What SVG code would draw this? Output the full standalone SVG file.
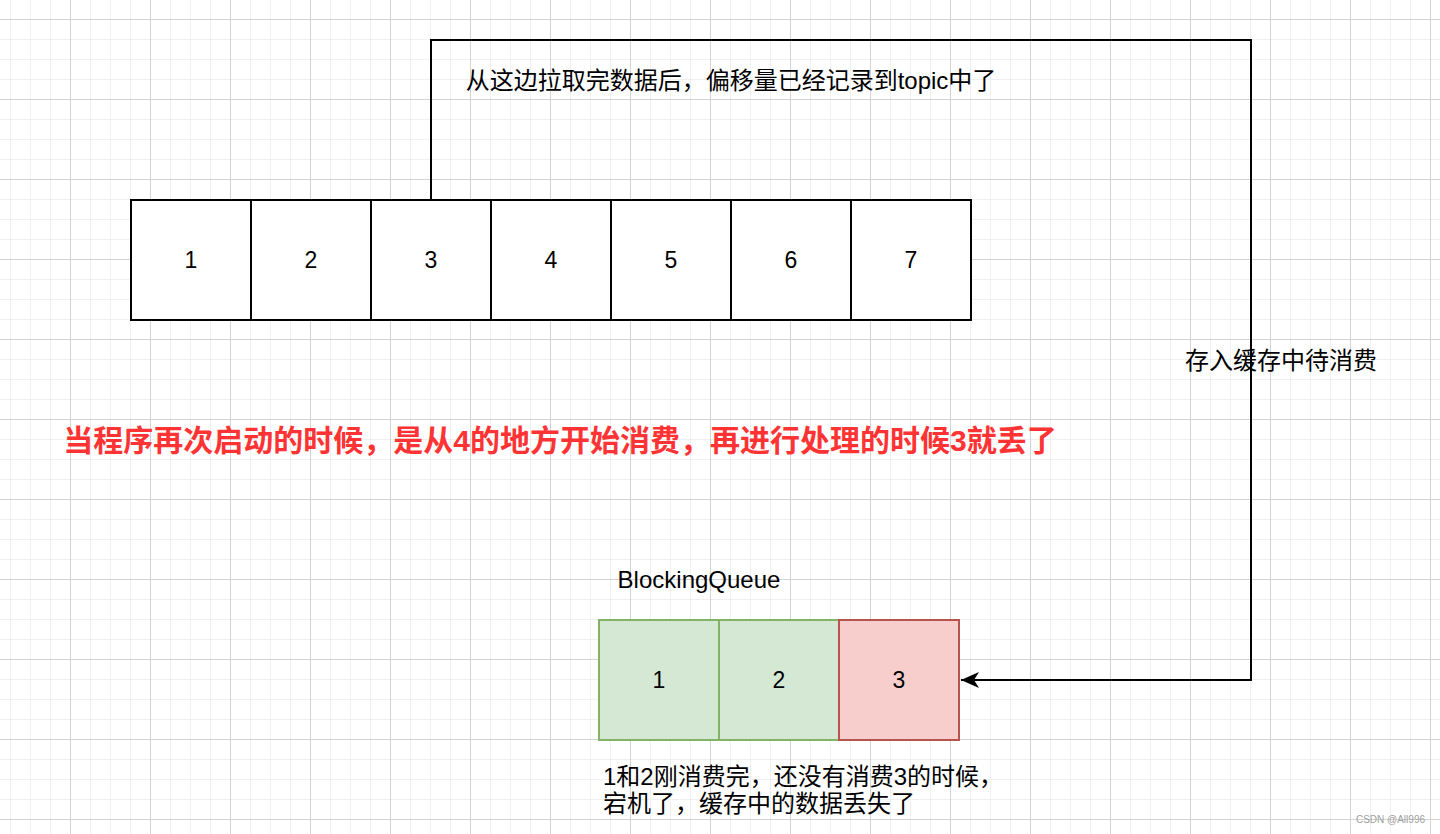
<svg xmlns="http://www.w3.org/2000/svg" width="1440" height="834" viewBox="0 0 1440 834">
  <defs>
    <pattern id="gridMinor" patternUnits="userSpaceOnUse" x="10" y="19" width="20" height="20">
      <path d="M0.5 0 V20 M0 0.5 H20" stroke="#f0f0f0" stroke-width="1" fill="none"/>
    </pattern>
    <pattern id="gridMajor" patternUnits="userSpaceOnUse" x="70" y="19" width="80" height="80">
      <path d="M0.5 0 V80 M0 0.5 H80" stroke="#d3d3d3" stroke-width="1" fill="none"/>
    </pattern>
    <marker id="arrow" markerUnits="userSpaceOnUse" markerWidth="20" markerHeight="20" refX="19" refY="10" orient="auto">
      <path d="M19 10 L1 2 L6 10 L1 18 Z" fill="#000"/>
    </marker>
  </defs>
  <style>
    text { font-family: "Liberation Sans", Arial, "Noto Sans CJK SC", sans-serif; fill: #000; }
    .cell { fill: #ffffff; stroke: #000; stroke-width: 2; }
    .green { fill: #d5e8d4; stroke: #82b366; stroke-width: 2; }
    .red { fill: #f8cecc; stroke: #b85450; stroke-width: 2; }
    .num { font-size: 23px; text-anchor: middle; dominant-baseline: central; }
    .lbl { font-size: 24px; }
    .warn { font-size: 30px; font-weight: bold; fill: #ff3333; text-anchor: middle; dominant-baseline: central; }
    .edge { fill: none; stroke: #000; stroke-width: 2; }
  </style>
  <rect x="0" y="0" width="1440" height="834" fill="#ffffff"/>
  <rect x="0" y="0" width="1440" height="834" fill="url(#gridMinor)"/>
  <rect x="0" y="0" width="1440" height="834" fill="url(#gridMajor)"/>

  <g id="topic-1"><rect class="cell" x="131" y="200" width="120" height="120"/><text class="num" x="191" y="260">1</text></g>
  <g id="topic-2"><rect class="cell" x="251" y="200" width="120" height="120"/><text class="num" x="311" y="260">2</text></g>
  <g id="topic-3"><rect class="cell" x="371" y="200" width="120" height="120"/><text class="num" x="431" y="260">3</text></g>
  <g id="topic-4"><rect class="cell" x="491" y="200" width="120" height="120"/><text class="num" x="551" y="260">4</text></g>
  <g id="topic-5"><rect class="cell" x="611" y="200" width="120" height="120"/><text class="num" x="671" y="260">5</text></g>
  <g id="topic-6"><rect class="cell" x="731" y="200" width="120" height="120"/><text class="num" x="791" y="260">6</text></g>
  <g id="topic-7"><rect class="cell" x="851" y="200" width="120" height="120"/><text class="num" x="911" y="260">7</text></g>

  <g id="queue-1"><rect class="green" x="599" y="620" width="120" height="120"/><text class="num" x="659" y="680">1</text></g>
  <g id="queue-2"><rect class="green" x="719" y="620" width="120" height="120"/><text class="num" x="779" y="680">2</text></g>
  <g id="queue-3"><rect class="red" x="839" y="620" width="120" height="120"/><text class="num" x="899" y="680">3</text></g>

  <g id="connectors">
    <path class="edge" d="M431 199 V40 H1251 V680 H961" marker-end="url(#arrow)"/>
  </g>

  <g id="label-top"><text class="lbl" x="731" y="80" text-anchor="middle" dominant-baseline="central">从这边拉取完数据后，偏移量已经记录到topic中了</text></g>
  <g id="label-cache"><text class="lbl" x="1281" y="360" text-anchor="middle" dominant-baseline="central">存入缓存中待消费</text></g>
  <g id="label-warning"><text class="warn" x="560" y="440">当程序再次启动的时候，是从4的地方开始消费，再进行处理的时候3就丢了</text></g>
  <g id="label-queue"><text class="lbl" x="699" y="588" text-anchor="middle">BlockingQueue</text></g>
  <g id="label-note">
    <text class="lbl" x="603" y="776" dominant-baseline="central">1和2刚消费完，还没有消费3的时候，</text>
    <text class="lbl" x="603" y="803" dominant-baseline="central">宕机了，缓存中的数据丢失了</text>
  </g>
  <g id="watermark"><text x="1425" y="823" font-size="10" text-anchor="end" style="fill:#a0a0a0">CSDN @All996</text></g>
</svg>
